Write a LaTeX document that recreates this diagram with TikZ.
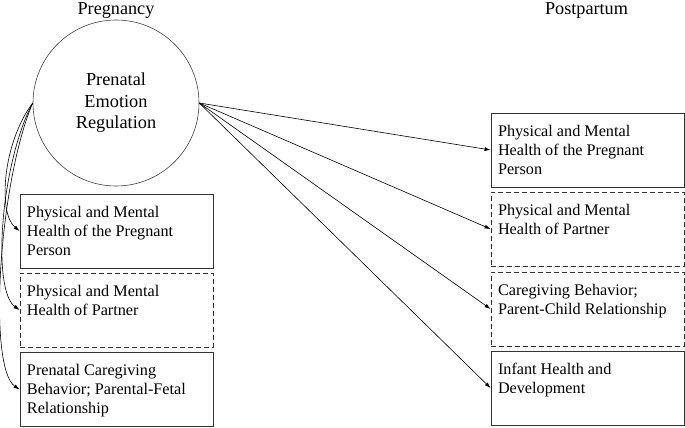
\documentclass[tikz,border=0pt]{standalone}
\usepackage{fontspec}
\setmainfont{Liberation Serif}
\usetikzlibrary{positioning, arrows.meta}

\newcommand{\boxtext}[1]{\parbox[c][60pt][t]{179pt}{\raggedright\rightskip=5pt plus 1fil\rule{0pt}{16pt}#1}}

\begin{document}
\begin{tikzpicture}[
            x=1pt, y=1pt,
            latent/.style = {draw, shape=circle, minimum size=166pt, inner sep=0pt,
                             line width=0.6pt, draw=black!75, align=center,
                             font=\fontsize{18.3}{21.5}\selectfont},
            outcome/.style = {draw, shape=rectangle, minimum width=193pt, minimum height=74pt,
                              inner sep=7pt, line width=0.9pt, draw=black!80,
                              font=\fontsize{16.2}{19}\selectfont},
            partner/.style = {outcome, dashed, dash pattern=on 5pt off 3pt},
            phase/.style = {anchor=base, font=\fontsize{18.2}{21}\selectfont},
            line/.style = {draw, line width=0.6pt, -{Latex[length=6pt, width=4pt]}},
            ]
            \useasboundingbox (0,0) rectangle (685,-428);

            \node[phase] (preg) at (116,-14.5) {Pregnancy};
            \node[phase] (post) at (586.5,-14.5) {Postpartum};

            \node[latent] (PER) at (116,-103) {Prenatal\\Emotion\\Regulation};

            % during pregnancy
            \node[outcome] (L1) at (116.5,-231) {\boxtext{Physical and Mental Health of the Pregnant Person}};
            \node[partner] (L2) at (116.5,-310) {\boxtext{Physical and Mental Health of Partner}};
            \node[outcome] (L3) at (116.5,-389.5) {\boxtext{Prenatal Caregiving Behavior; Parental-Fetal Relationship}};

            % after birth
            \node[outcome] (R1) at (587.5,-150) {\boxtext{Physical and Mental Health of the Pregnant Person}};
            \node[partner] (R2) at (587.5,-229) {\boxtext{Physical and Mental Health of Partner}};
            \node[partner] (R3) at (587.5,-309) {\boxtext{Caregiving Behavior; Parent-Child Relationship}};
            \node[outcome] (R4) at (587.5,-388) {\boxtext{Infant Health and Development}};

            \draw[line] (PER.east) -- (R1.west);
            \draw[line] (PER.east) -- (R2.west);
            \draw[line] (PER.east) -- (R3.west);
            \draw[line] (PER.east) -- (R4.west);

            \draw[line] (PER.west) .. controls +(-30,-40) and +(-22,18) .. (L1.west);
            \draw[line] (PER.west) .. controls +(-32,-60) and +(-28,20) .. (L2.west);
            \draw[line] (PER.west) .. controls +(-34,-80) and +(-32,22) .. (L3.west);
        \end{tikzpicture}
\end{document}
